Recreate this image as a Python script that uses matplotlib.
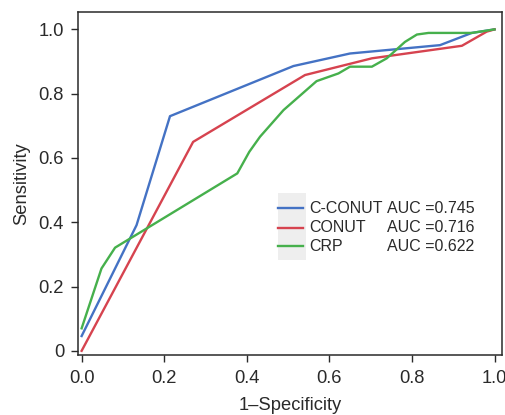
import matplotlib
matplotlib.use("Agg")
import matplotlib.pyplot as plt
from matplotlib.lines import Line2D
from matplotlib.patches import Rectangle

plt.rcParams['font.family'] = ['Liberation Sans', 'DejaVu Sans']

# Data
cconut_x = [0.0, 0.133, 0.214, 0.513, 0.650, 0.868, 0.945, 1.0]
cconut_y = [0.046, 0.391, 0.730, 0.886, 0.925, 0.951, 0.989, 1.0]

conut_x = [0.0, 0.270, 0.541, 0.703, 0.921, 0.981, 1.0]
conut_y = [0.0, 0.650, 0.858, 0.910, 0.949, 0.993, 1.0]

crp_x = [0.0, 0.048, 0.081, 0.377, 0.406, 0.432, 0.489, 0.569, 0.622, 0.650,
         0.703, 0.739, 0.783, 0.812, 0.840, 0.945, 1.0]
crp_y = [0.070, 0.256, 0.321, 0.552, 0.619, 0.666, 0.749, 0.839, 0.863, 0.884,
         0.884, 0.910, 0.961, 0.984, 0.989, 0.989, 1.0]

names = ["C-CONUT", "CONUT", "CRP"]
aucs = ["AUC =0.745", "AUC =0.716", "AUC =0.622"]
colors = ["#4472c4", "#d6434f", "#46b04c"]

xticks = [0.0, 0.2, 0.4, 0.6, 0.8, 1.0]
xticklabels = ["0.0", "0.2", "0.4", "0.6", "0.8", "1.0"]
yticks = [0.0, 0.2, 0.4, 0.6, 0.8, 1.0]
yticklabels = ["0", "0.2", "0.4", "0.6", "0.8", "1.0"]

fig = plt.figure(figsize=(5.06, 4.15), dpi=100)
ax = fig.add_axes([0.154, 0.1446, 0.838, 0.8264])

lw = 1.7
ax.plot(cconut_x, cconut_y, color=colors[0], lw=lw)
ax.plot(conut_x, conut_y, color=colors[1], lw=lw)
ax.plot(crp_x, crp_y, color=colors[2], lw=lw)

ax.set_xlim(-0.009, 1.018)
ax.set_ylim(-0.013, 1.054)
ax.set_xticks(xticks)
ax.set_xticklabels(xticklabels)
ax.set_yticks(yticks)
ax.set_yticklabels(yticklabels)
ax.tick_params(direction='out', length=5, width=1.0, labelsize=13.2, pad=5, colors='#2a2a2a')
ax.tick_params(axis='x', pad=6)
for s in ax.spines.values():
    s.set_linewidth(1.1)
    s.set_color('#2a2a2a')

ax.set_xlabel("1–Specificity", fontsize=13.2, labelpad=7, color='#2a2a2a')
ax.set_ylabel("Sensitivity", fontsize=13.2, labelpad=6, color='#2a2a2a')

# Legend (drawn manually)
ax.add_patch(Rectangle((0.476, 0.282), 0.067, 0.208, facecolor='#eeeeee',
                       edgecolor='none', zorder=1))
rows_y = [0.443, 0.383, 0.326]
for i in range(3):
    ax.add_line(Line2D([0.476, 0.537], [rows_y[i], rows_y[i]], color=colors[i], lw=lw, zorder=2))
    ax.text(0.551, rows_y[i], names[i], fontsize=11.5, va='center', ha='left', color='#2a2a2a')
    ax.text(0.739, rows_y[i], aucs[i], fontsize=11.5, va='center', ha='left', color='#2a2a2a')

fig.savefig("out.png", dpi=100)
